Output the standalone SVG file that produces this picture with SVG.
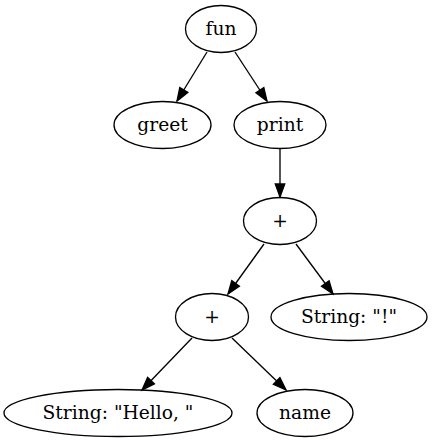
<svg xmlns="http://www.w3.org/2000/svg" width="433" height="443" viewBox="0 0 433 443">
<style>
.n ellipse{fill:none;stroke:#000;stroke-width:1.33}
.n text{font-family:"DejaVu Serif","Liberation Serif",serif;font-size:18.67px;text-anchor:middle;fill:#000}
#edges line{stroke:#000;stroke-width:1.33;marker-end:url(#ah)}
</style>
<defs>
<marker id="ah" markerUnits="userSpaceOnUse" markerWidth="14" markerHeight="10" refX="13" refY="5" orient="auto" overflow="visible">
<path d="M0,0.3 L13,5 L0,9.7 z" fill="#000" stroke="#000" stroke-width="1.33"/>
</marker>
</defs>
<g id="edges">
<line x1="207" y1="52" x2="177" y2="101"/>
<line x1="235" y1="52" x2="267" y2="101"/>
<line x1="280" y1="149" x2="280" y2="197"/>
<line x1="264" y1="244" x2="228" y2="294"/>
<line x1="296" y1="244" x2="333" y2="294"/>
<line x1="192" y1="338" x2="142" y2="390"/>
<line x1="232" y1="338" x2="286" y2="390"/>
</g>
<g id="fun" class="n"><ellipse cx="221" cy="29" rx="35.5" ry="23.5"/><text x="221" y="35">fun</text></g>
<g id="greet" class="n"><ellipse cx="162.5" cy="125" rx="48.5" ry="23.5"/><text x="162.5" y="131">greet</text></g>
<g id="print" class="n"><ellipse cx="280" cy="125" rx="46" ry="23.5"/><text x="280" y="131">print</text></g>
<g id="plus1" class="n"><ellipse cx="280" cy="221" rx="36.5" ry="23.5"/><text x="280" y="227">+</text></g>
<g id="plus2" class="n"><ellipse cx="212" cy="317" rx="36.5" ry="23.5"/><text x="212" y="323">+</text></g>
<g id="excl" class="n"><ellipse cx="349" cy="317" rx="78" ry="23.5"/><text x="349" y="323">String: "!"</text></g>
<g id="hello" class="n"><ellipse cx="118" cy="413" rx="114" ry="23.5"/><text x="118" y="419" xml:space="preserve">String: "Hello, "</text></g>
<g id="name" class="n"><ellipse cx="305" cy="413" rx="48" ry="23.5"/><text x="305" y="419">name</text></g>
</svg>
